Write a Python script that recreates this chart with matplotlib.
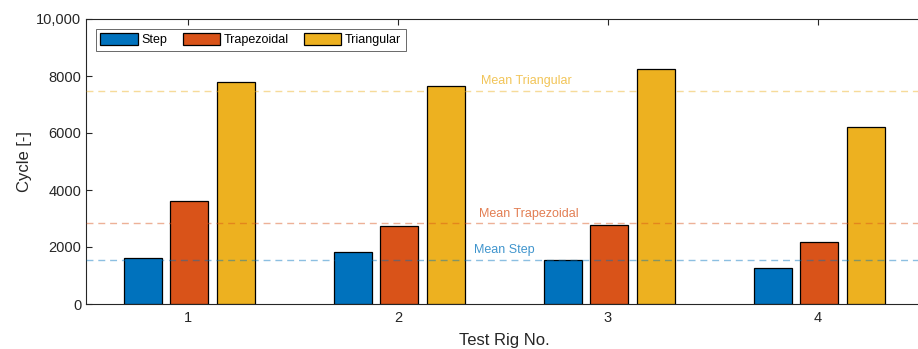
import numpy as np
import matplotlib
matplotlib.use('Agg')
import matplotlib.pyplot as plt
from matplotlib.ticker import FuncFormatter

plt.rcParams['font.family'] = ['Liberation Sans', 'DejaVu Sans']

rigs = [1, 2, 3, 4]
series = ['Step', 'Trapezoidal', 'Triangular']
step = [1615, 1825, 1535, 1265]
trapezoidal = [3625, 2740, 2770, 2175]
triangular = [7790, 7650, 8255, 6220]
colors = ['#0072BD', '#D95319', '#EDB120']

values = [step, trapezoidal, triangular]

fig = plt.figure(figsize=(9.18, 3.49), dpi=100)
ax = fig.add_axes([86 / 918, 45 / 349, (923 - 86) / 918, 285 / 349])

x = np.array(rigs)
offsets = [-0.215, 0.007, 0.229]
handles = []
for vals, off, c, name in zip(values, offsets, colors, series):
    b = ax.bar(x + off, vals, width=0.181, color=c, edgecolor='black',
               linewidth=0.9, label=name, zorder=3)
    handles.append(b)

# mean lines
label_x = [2.362, 2.386, 2.395]
for vals, c, name, lx in zip(values, colors, series, label_x):
    m = np.mean(vals)
    ax.axhline(m, color=c, alpha=0.45, linewidth=1, dashes=(5, 3.5), zorder=4)
    ax.annotate('Mean ' + name, xy=(lx, m), xytext=(0, 2.5), textcoords='offset points',
                color=c, alpha=0.75, fontsize=9, ha='left', va='bottom')

ax.set_xlim(0.515, 4.5)
ax.set_ylim(0, 10000)
ax.set_xticks(rigs)
ax.set_yticks(np.arange(0, 10001, 2000))
ax.yaxis.set_major_formatter(FuncFormatter(lambda v, p: f'{v:,.0f}' if v >= 10000 else f'{v:.0f}'))

gray = '#262626'
for s in ['left', 'top', 'bottom']:
    ax.spines[s].set_color(gray)
    ax.spines[s].set_linewidth(0.8)
ax.spines['right'].set_visible(False)
ax.tick_params(direction='in', length=4, width=0.8, colors=gray, labelsize=10.5,
               top=True, labeltop=False)
ax.tick_params(axis='x', pad=5)

ax.set_xlabel('Test Rig No.', fontsize=12, color=gray, labelpad=6)
ax.set_ylabel('Cycle [-]', fontsize=12, color=gray, labelpad=3)

leg = ax.legend(handles=handles, loc='upper left', ncol=3, fontsize=9,
                bbox_to_anchor=(0.012, 0.965), fancybox=False, frameon=True,
                handlelength=3.0, handleheight=1.0, handletextpad=0.3,
                columnspacing=1.2, borderpad=0.35, borderaxespad=0)
leg.get_frame().set_edgecolor(gray)
leg.get_frame().set_linewidth(0.6)

fig.savefig('out.png', dpi=100)
